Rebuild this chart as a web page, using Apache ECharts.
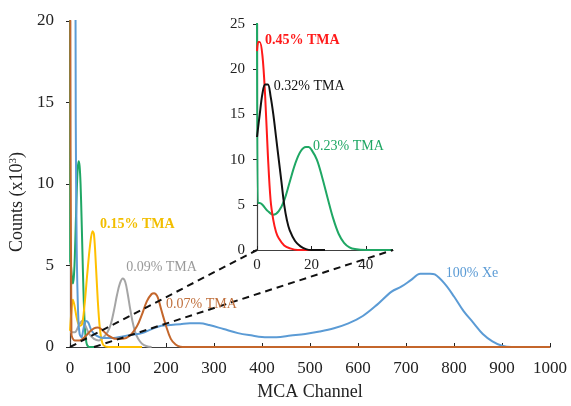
<!DOCTYPE html>
<html><head><meta charset="utf-8">
<script src="https://cdn.jsdelivr.net/npm/echarts@6/dist/echarts.min.js"></script>
<style>html,body{margin:0;padding:0;background:#fff}#c{width:571px;height:406px}</style>
</head><body><div id="c"></div>
<script>
// ---- data (MCA channel, counts x10^3) ----
const xeCh  = [0,10,12,14,17,20,24,28,33,38,45,55,70,90,110,130,150,170,190,210,230,250,270,290,320,350,380,400,430,460,490,520,550,580,610,640,670,690,710,730,750,760,780,800,820,840,860,880,900,920,1000];
const xeVal = [40,30,14,6,2,0.8,0.6,1.1,1.6,1.5,1.0,0.7,0.55,0.55,0.65,0.75,0.85,1.1,1.3,1.35,1.4,1.45,1.45,1.35,1.1,0.85,0.7,0.62,0.6,0.7,0.8,0.95,1.15,1.45,1.9,2.6,3.4,3.7,4.1,4.5,4.5,4.45,3.9,3.1,2.2,1.5,0.8,0.35,0.08,0,0];
const t07Ch  = [0,3,10,20,30,40,50,58,65,80,95,110,125,140,150,160,170,175,182,190,200,210,220,230,240,1000];
const t07Val = [30,0.8,0.4,0.4,0.6,0.9,1.15,1.2,1.1,0.7,0.5,0.5,0.7,1.3,2.0,2.8,3.25,3.3,3.1,2.3,1.3,0.5,0.15,0.02,0,0];
const t15Ch  = [0,3,6,9,14,20,25,30,36,42,47,50,54,58,62,66,70,80,150];
const t15Val = [1.0,2.2,2.9,2.6,1.8,1.3,1.4,2.5,4.5,6.3,7.1,6.9,5.0,2.8,1.2,0.4,0.1,0,0];
const t09Ch  = [0,10,18,25,32,40,50,60,70,78,85,92,98,104,110,115,120,125,130,136,142,150,160,170];
const t09Val = [0.9,0.9,1.3,1.6,1.3,0.8,0.5,0.4,0.6,0.9,1.4,2.3,3.2,3.9,4.2,4.0,3.3,2.4,1.6,0.9,0.5,0.2,0.05,0];
const t23Ch  = [0,0.3,1,2,4,6,8,10,12,14,16,18,19,20,22,24,26,28,30,32,34,36,40,50];
const t23Val = [30,5.2,5.2,5.0,4.3,3.9,4.3,5.5,7.5,9.5,10.9,11.4,11.4,11.1,10.0,8.0,5.7,3.5,1.8,0.8,0.3,0.1,0,0];
const t45Ch  = [0,0.5,1,2,3,4,5,6,7,8,10,12,15,20];
const t45Val = [22,23,23,21.5,17,10.5,5.5,3.3,2,1.3,0.5,0.2,0,0];
const t32Ch  = [0,1,2,3,4,5,6,7,8,9,10,11,12,14,16,18,20,25];
const t32Val = [12.5,15,17.3,18.3,18.3,17,15,12.5,10,7.5,5,3.3,2.2,1,0.4,0.1,0,0];
const mainTicksX = [0,1000,100];
const mainTicksY = [0,20,5];
const insetTicksX = [0,50,20];
const insetTicksY = [0,25,5];

const zip = (a,b)=>a.map((v,i)=>[v,b[i]]);
const FONT = '"Liberation Serif", "Times New Roman", serif';
const C = {xe:'#5B9BD5', t07:'#C4662B', t15:'#FFC000', t09:'#A5A5A5', t23:'#1FA764', t45:'#FF1A1A', t32:'#111111'};

function line(name, ch, val, color, grid){
  return {type:'line', name, data: zip(ch,val), xAxisIndex:grid, yAxisIndex:grid,
    showSymbol:false, smooth:0.35, clip:true,
    lineStyle:{color, width:2}, itemStyle:{color}, silent:true, animation:false};
}
const axisLineStyle = {color:'#404040', width:1.2};
const numFmt = v => String(v);

const chart = echarts.init(document.getElementById('c'), null, {renderer:'canvas'});
chart.setOption({
  animation:false,
  backgroundColor:'#fff',
  grid:[
    {left:70, top:21, right:21, bottom:56},
    {left:257, top:24, right:178, bottom:156}
  ],
  xAxis:[
    {type:'value', gridIndex:0, min:mainTicksX[0], max:mainTicksX[1], interval:mainTicksX[2],
     name:'MCA Channel', nameLocation:'middle', nameGap:36,
     nameTextStyle:{fontFamily:FONT, fontSize:18, color:'#222'},
     axisLine:{lineStyle:axisLineStyle}, axisTick:{inside:true, length:4, lineStyle:{color:'#222'}},
     axisLabel:{fontFamily:FONT, fontSize:17, color:'#222', margin:13, formatter:numFmt}, splitLine:{show:false}},
    {type:'value', gridIndex:1, min:insetTicksX[0], max:insetTicksX[1], interval:insetTicksX[2],
     axisLine:{lineStyle:axisLineStyle}, axisTick:{inside:true, length:4, lineStyle:{color:'#222'}},
     axisLabel:{fontFamily:FONT, fontSize:15, color:'#222', margin:8, showMaxLabel:false, formatter:numFmt}, splitLine:{show:false}}
  ],
  yAxis:[
    {type:'value', gridIndex:0, min:mainTicksY[0], max:mainTicksY[1], interval:mainTicksY[2],
     axisLine:{show:true, lineStyle:axisLineStyle}, axisTick:{show:true, length:4, lineStyle:{color:'#222'}},
     axisLabel:{fontFamily:FONT, fontSize:17, color:'#222', margin:16, formatter:numFmt}, splitLine:{show:false}},
    {type:'value', gridIndex:1, min:insetTicksY[0], max:insetTicksY[1], interval:insetTicksY[2],
     axisLine:{show:true, lineStyle:axisLineStyle}, axisTick:{show:true, length:4, lineStyle:{color:'#222'}},
     axisLabel:{fontFamily:FONT, fontSize:15, color:'#222', margin:12, formatter:numFmt}, splitLine:{show:false}}
  ],
  series:[
    line('0.23% TMA main', t23Ch, t23Val, C.t23, 0),
    line('0.09% TMA', t09Ch, t09Val, C.t09, 0),
    line('0.15% TMA', t15Ch, t15Val, C.t15, 0),
    line('100% Xe', xeCh, xeVal, C.xe, 0),
    line('0.07% TMA', t07Ch, t07Val, C.t07, 0),
    line('0.23% TMA', t23Ch, t23Val, C.t23, 1),
    line('0.45% TMA', t45Ch, t45Val, C.t45, 1),
    line('0.32% TMA', t32Ch, t32Val, C.t32, 1)
  ]
});

// annotations placed through the axes' own scales
const labels = [
  {g:0, at:[62.5,7.5], text:'0.15% TMA', color:'#F2BE00', bold:true},
  {g:0, at:[117,4.9], text:'0.09% TMA', color:'#9A9A9A', bold:false},
  {g:0, at:[200,2.6], text:'0.07% TMA', color:'#C0703D', bold:false},
  {g:0, at:[783,4.5], text:'100% Xe', color:'#5B9BD5', bold:false},
  {g:1, at:[2.9,23.2], text:'0.45% TMA', color:'#FF1A1A', bold:true},
  {g:1, at:[6.2,18.1], text:'0.32% TMA', color:'#111111', bold:false},
  {g:1, at:[20.6,11.5], text:'0.23% TMA', color:'#1FA764', bold:false}
];
const gfx = labels.map(l=>{
  const p = chart.convertToPixel({gridIndex:l.g}, l.at);
  return {type:'text', x:p[0], y:p[1], silent:true, z:100,
    style:{text:l.text, fill:l.color, font:(l.bold?'bold ':'')+'14px '+FONT, align:'left', verticalAlign:'middle'}};
});
// zoom guide lines: main [0..50] -> inset x-range
const a0 = chart.convertToPixel({gridIndex:0},[insetTicksX[0],0]);
const a1 = chart.convertToPixel({gridIndex:0},[insetTicksX[1],0]);
const b0 = chart.convertToPixel({gridIndex:1},[insetTicksX[0],0]);
const b1 = chart.convertToPixel({gridIndex:1},[insetTicksX[1],0]);
[[a0,b0],[a1,b1]].forEach(([p,q])=>{
  gfx.push({type:'line', silent:true, z:90, shape:{x1:p[0],y1:p[1],x2:q[0],y2:q[1]},
    style:{stroke:'#111', lineWidth:2, lineDash:[7,5]}});
});
// y axis title with superscript
const mid = chart.convertToPixel({gridIndex:0},[0,8.9]);
gfx.push({type:'text', x:17, y:mid[1], rotation:Math.PI/2, silent:true,
  style:{text:'Counts (x10{sup|3})', fill:'#222', font:'18px '+FONT, align:'center', verticalAlign:'middle',
    rich:{sup:{fontSize:11, fontFamily:FONT, fill:'#222', verticalAlign:'top', padding:[0,0,8,0]}}}});
chart.setOption({graphic:gfx});
</script></body></html>
